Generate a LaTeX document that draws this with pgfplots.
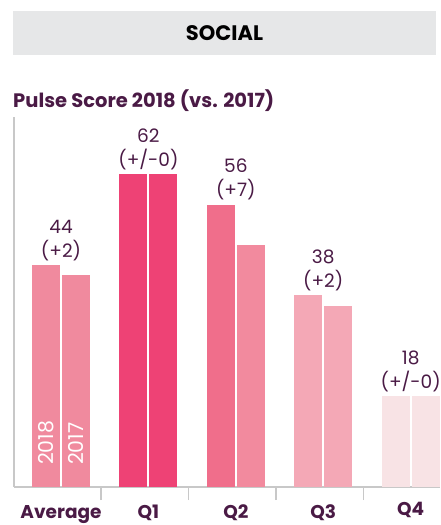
\documentclass[border=0pt]{standalone}
\usepackage{fontspec}
\setmainfont{Poppins}
\usepackage{pgfplots}
\pgfplotsset{compat=1.18}

\definecolor{txt}{HTML}{4A1A45}
\definecolor{hdr}{HTML}{E6E7E8}
\definecolor{axgray}{HTML}{C8C8C8}
\definecolor{cavg}{HTML}{F08A9E}
\definecolor{cqone}{HTML}{EE4275}
\definecolor{cqtwoa}{HTML}{F06E8B}
\definecolor{cqtwob}{HTML}{F28A9E}
\definecolor{cqthree}{HTML}{F4A8B6}
\definecolor{cqfour}{HTML}{F8E3E5}

\begin{document}
\begin{tikzpicture}
\useasboundingbox (0,0) rectangle (440pt,525pt);
% header
\fill[hdr] (13pt,470pt) rectangle (436pt,514pt);
\node[font=\bfseries\fontsize{21}{24}\selectfont, text=black] at (224.5pt,492pt) {SOCIAL};
\node[anchor=base west, inner sep=0pt, text=txt, font=\bfseries\fontsize{19.5}{22}\selectfont]
  at (13pt,417pt) {Pulse Score 2018 (vs. 2017)};

\begin{axis}[
    at={(14pt,38pt)}, anchor=south west,
    scale only axis,
    width=426pt, height=370pt,
    xmin=-0.538, xmax=4.336,
    ymin=0, ymax=73.4,
    axis x line*=bottom, axis y line*=left,
    axis line style={draw=axgray, line width=1.5pt},
    ytick=\empty,
    xtick={0.46,1.46,2.46,3.46},
    xticklabels={},
    tick align=outside,
    major tick length=13pt,
    tick style={draw=axgray, line width=1.5pt},
    extra x ticks={0,1,2,3,4},
    extra x tick labels={Average,Q1,Q2,Q3,\raisebox{3pt}{Q4}},
    extra x tick style={
        major tick length=0pt,
        tick style={draw=none},
        xticklabel style={anchor=base, yshift=-32pt, text=txt,
            font=\bfseries\fontsize{18.5}{21}\selectfont}},
    /pgf/number format/assume math mode=true,
    ybar, bar width=28pt,
    nodes near coords style={text=txt, font=\fontsize{18.5}{21}\selectfont, anchor=base},
]
% 2018 / 2017 bars per category
\addplot[draw=none, fill=cavg, bar shift=-15pt] coordinates {(0,44)};
\addplot[draw=none, fill=cavg, bar shift=15pt] coordinates {(0,42)};
\addplot[draw=none, fill=cqone, bar shift=-15pt] coordinates {(1,62)};
\addplot[draw=none, fill=cqone, bar shift=15pt] coordinates {(1,62)};
\addplot[draw=none, fill=cqtwoa, bar shift=-15pt] coordinates {(2,56)};
\addplot[draw=none, fill=cqtwob, bar shift=15pt] coordinates {(2,48)};
\addplot[draw=none, fill=cqthree, bar shift=-15pt] coordinates {(3,38)};
\addplot[draw=none, fill=cqthree, bar shift=15pt] coordinates {(3,36)};
\addplot[draw=none, fill=cqfour, bar shift=-15pt] coordinates {(4,18)};
\addplot[draw=none, fill=cqfour, bar shift=15pt] coordinates {(4,18)};

% value labels (score and change)
\addplot[draw=none, fill=none, bar shift=0pt, point meta=y,
    nodes near coords, nodes near coords style={yshift=32pt}]
    coordinates {(0,44) (1,62) (2,56) (3,38) (4,18)};
\addplot[draw=none, fill=none, bar shift=0pt, point meta=explicit symbolic,
    nodes near coords, nodes near coords style={yshift=8pt}]
    coordinates {(0,44) [(+2)] (1,62) [(+/-0)] (2,56) [(+7)] (3,38) [(+2)] (4,18) [(+/-0)]};

% series names inside the Average bars
\node[rotate=90, anchor=west, text=white, inner sep=0pt, font=\fontsize{20.5}{23}\selectfont]
  at ([xshift=-15pt, yshift=22pt]axis cs:0,0) {2018};
\node[rotate=90, anchor=west, text=white, inner sep=0pt, font=\fontsize{20.5}{23}\selectfont]
  at ([xshift=15pt, yshift=22pt]axis cs:0,0) {2017};
\end{axis}
\end{tikzpicture}
\end{document}
